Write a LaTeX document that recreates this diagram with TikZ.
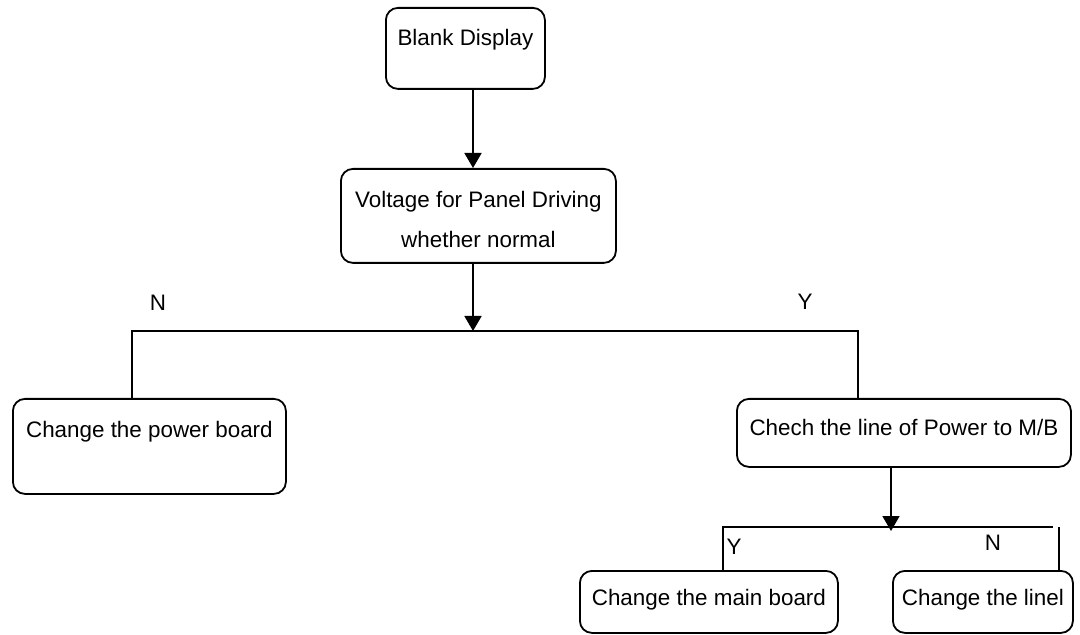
\documentclass[tikz,border=0pt]{standalone}
\usepackage{fontspec}
\setmainfont{Liberation Sans}
\usetikzlibrary{arrows.meta}

\begin{document}
\begin{tikzpicture}[x=0.5pt,y=0.5pt,yscale=-1,xscale=1,
  box/.style={draw,line width=0.9pt,rounded corners=6pt,inner sep=0pt,minimum height=0pt,anchor=north west,align=center},
  link/.style={line width=0.9pt},
  arr/.style={line width=0.9pt,-{Triangle[length=7.5pt,width=8.5pt]}},
  lbl/.style={inner sep=0pt}]
\useasboundingbox (0,0) rectangle (1080,635);
\fontsize{11.2pt}{13.6pt}\selectfont

\node [box,minimum width=79.5pt,text height=19pt,text depth=21.5pt] (blank) at (385,7) {Blank Display};
\node [box,minimum width=137.5pt,text height=39.5pt,text depth=7.5pt] (volt) at (340,168) {Voltage for Panel Driving\\[6.4pt]whether normal};
\node [box,minimum width=136.5pt,text height=19.5pt,text depth=28pt] (power) at (12,398) {Change the power board};
\node [box,minimum width=167pt,text height=18.5pt,text depth=15.5pt] (check) at (736,398) {Chech the line of Power to M/B};
\node [box,minimum width=129pt,text height=17.5pt,text depth=13.5pt] (mainb) at (579,570) {Change the main board};
\node [box,minimum width=90pt,text height=17.5pt,text depth=13.5pt] (linel) at (892,570) {Change the linel};

\coordinate (split) at (473,331);
\coordinate (tleft) at (132,331);
\coordinate (tright) at (858,331);
\coordinate (split2) at (891,531);
\coordinate (bleft) at (723,527);
\coordinate (bright) at (1053,527);
\coordinate (bgap) at (1059,527);

\draw [arr] (blank.south -| split) -- (volt.north -| split);
\draw [arr] (volt.south -| split) -- (split);
\draw [link] (power.north -| tleft) -- (tleft) -- (tright) -- (check.north -| tright);
\draw [arr] (check.south -| split2) -- (split2);
\draw [link] (mainb.north -| bleft) -- (bleft) -- (bright);
\draw [link] (bgap) -- (linel.north -| bgap);

\node [lbl] (lblN) at (158,303) {N};
\node [lbl] (lblY) at (805,302) {Y};
\node [lbl] (lblY2) at (734,547) {Y};
\node [lbl] (lblN2) at (993,543) {N};

\end{tikzpicture}
\end{document}
